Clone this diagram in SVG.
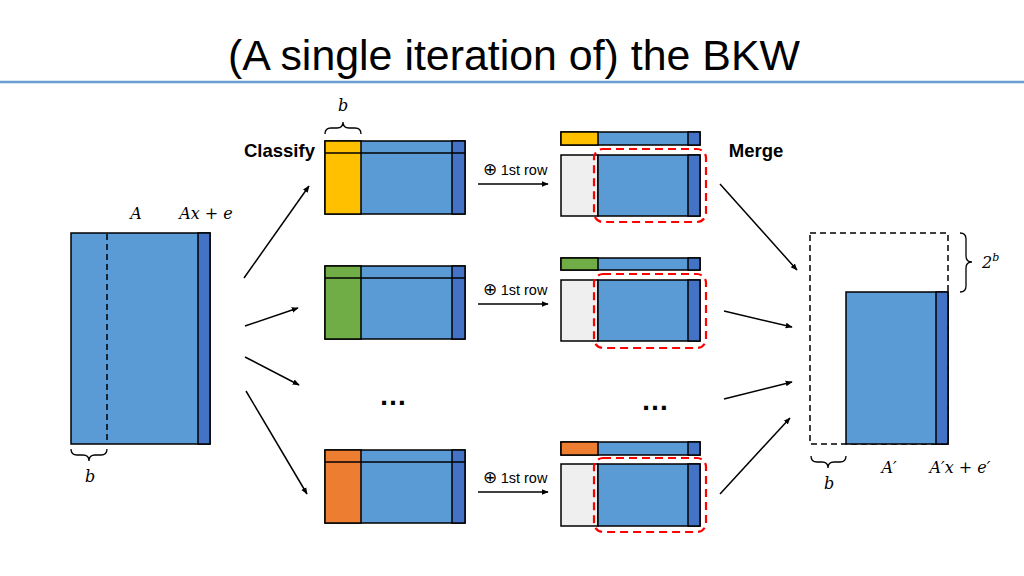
<svg xmlns="http://www.w3.org/2000/svg" width="1024" height="576" viewBox="0 0 1024 576">
<defs>
<marker id="ah" viewBox="0 0 10 10" refX="9" refY="5" markerWidth="7" markerHeight="7" orient="auto" markerUnits="userSpaceOnUse"><path d="M0,1 L10,5 L0,9 z" fill="#000"/></marker>
<style>
.lb{fill:#5B9BD5;stroke:#000;stroke-width:1.5}
.db{fill:#4472C4;stroke:#000;stroke-width:1.5}
.yl{fill:#FFC000;stroke:#000;stroke-width:1.5}
.gr{fill:#70AD47;stroke:#000;stroke-width:1.5}
.or{fill:#ED7D31;stroke:#000;stroke-width:1.5}
.gy{fill:#EFEFEF;stroke:#000;stroke-width:1.5}
.red{fill:none;stroke:#FF0000;stroke-width:2.2;stroke-dasharray:8,5}
.dash{fill:none;stroke:#000;stroke-width:1.5;stroke-dasharray:6,4}
.br{fill:none;stroke:#000;stroke-width:1.3}
.conn{stroke:#000;stroke-width:1.5;fill:none;marker-end:url(#ah)}
.math{font-family:"DejaVu Serif","Liberation Serif",serif;font-style:italic;font-size:16px;fill:#000}
.lab{font-family:"Liberation Sans",Arial,sans-serif;font-size:14.5px;fill:#000}
.op{font-size:17px}
.bold{font-family:"Liberation Sans",Arial,sans-serif;font-size:18.5px;font-weight:bold;fill:#000}
.dots{font-family:"Liberation Sans",Arial,sans-serif;font-size:28px;font-weight:bold;fill:#000}
</style>
</defs>
<rect width="1024" height="576" fill="#fff"/>
<g id="title">
<text x="514" y="70" text-anchor="middle" font-family="Liberation Sans, Arial, sans-serif" font-size="42" textLength="572" lengthAdjust="spacingAndGlyphs">(A single iteration of) the BKW</text>
<line x1="0" y1="82" x2="1024" y2="82" stroke="#6A9FD4" stroke-width="2.5"/>
</g>
<g id="matrixA">
<rect class="lb" x="71" y="233" width="139" height="211"/>
<rect class="db" x="198" y="233" width="12" height="211"/>
<line class="dash" x1="107" y1="234" x2="107" y2="443"/>
<text class="math" x="136" y="219" text-anchor="middle">A</text>
<text class="math" x="206" y="219" text-anchor="middle">Ax + e</text>
<path class="br" d="M71,449 Q71,455 77,455 L83,455 Q89,455 89,461 Q89,455 95,455 L101,455 Q107,455 107,449"/>
<text class="math" x="90" y="482" text-anchor="middle">b</text>
</g>
<g id="classify1">
<rect class="lb" x="325" y="141" width="140" height="73"/>
<rect class="yl" x="325" y="141" width="36" height="73"/>
<rect class="db" x="452" y="141" width="13" height="73"/>
<line x1="325" y1="153" x2="465" y2="153" stroke="#000" stroke-width="1.5"/>
<path class="br" d="M325,134 Q325,128 331,128 L337,128 Q343,128 343,122 Q343,128 349,128 L355,128 Q361,128 361,134"/>
<text class="math" x="343" y="111" text-anchor="middle">b</text>
<text class="bold" x="244" y="157">Classify</text>
</g>
<g id="classify2">
<rect class="lb" x="325" y="266" width="140" height="73"/>
<rect class="gr" x="325" y="266" width="36" height="73"/>
<rect class="db" x="452" y="266" width="13" height="73"/>
<line x1="325" y1="278" x2="465" y2="278" stroke="#000" stroke-width="1.5"/>
</g>
<g id="dots1"><text class="dots" x="393" y="405" text-anchor="middle">…</text></g>
<g id="classify3">
<rect class="lb" x="325" y="450" width="140" height="73"/>
<rect class="or" x="325" y="450" width="36" height="73"/>
<rect class="db" x="452" y="450" width="13" height="73"/>
<line x1="325" y1="462" x2="465" y2="462" stroke="#000" stroke-width="1.5"/>
</g>
<g id="reduced1">
<rect class="lb" x="561" y="132" width="139" height="13"/>
<rect class="yl" x="561" y="132" width="37" height="13"/>
<rect class="db" x="688" y="132" width="12" height="13"/>
<rect class="gy" x="561" y="155" width="37" height="61"/>
<rect class="lb" x="598" y="155" width="102" height="61"/>
<rect class="db" x="688" y="155" width="12" height="61"/>
<rect class="red" x="594" y="149" width="112" height="73" rx="9"/>
<text class="lab" x="515" y="175" text-anchor="middle"><tspan class="op">⊕</tspan> 1st row</text>
<text class="bold" x="756" y="157" text-anchor="middle">Merge</text>
</g>
<g id="reduced2">
<rect class="lb" x="561" y="258" width="139" height="12"/>
<rect class="gr" x="561" y="258" width="37" height="12"/>
<rect class="db" x="688" y="258" width="12" height="12"/>
<rect class="gy" x="561" y="280" width="37" height="61"/>
<rect class="lb" x="598" y="280" width="102" height="61"/>
<rect class="db" x="688" y="280" width="12" height="61"/>
<rect class="red" x="594" y="274" width="112" height="74" rx="9"/>
<text class="lab" x="515" y="295" text-anchor="middle"><tspan class="op">⊕</tspan> 1st row</text>
</g>
<g id="dots2"><text class="dots" x="655" y="410" text-anchor="middle">…</text></g>
<g id="reduced3">
<rect class="lb" x="561" y="442" width="139" height="13"/>
<rect class="or" x="561" y="442" width="37" height="13"/>
<rect class="db" x="688" y="442" width="12" height="13"/>
<rect class="gy" x="561" y="464" width="37" height="62"/>
<rect class="lb" x="598" y="464" width="102" height="62"/>
<rect class="db" x="688" y="464" width="12" height="62"/>
<rect class="red" x="594" y="458" width="112" height="74" rx="9"/>
<text class="lab" x="515" y="483" text-anchor="middle"><tspan class="op">⊕</tspan> 1st row</text>
</g>
<g id="merged">
<rect class="dash" x="810" y="233" width="138" height="211"/>
<rect class="lb" x="846" y="292" width="102" height="152"/>
<rect class="db" x="936" y="292" width="12" height="152"/>
<path class="br" d="M960,233 Q966,233 966,239 L966,256 Q966,262 972,262 Q966,262 966,268 L966,286 Q966,292 960,292"/>
<text class="math" x="982" y="268">2<tspan dy="-7" font-size="11">b</tspan></text>
<path class="br" d="M811,456 Q811,462 817,462 L822,462 Q828,462 828,468 Q828,462 834,462 L840,462 Q846,462 846,456"/>
<text class="math" x="829" y="489" text-anchor="middle">b</text>
<text class="math" x="889" y="473" text-anchor="middle">A′</text>
<text class="math" x="960" y="473" text-anchor="middle">A′x + e′</text>
</g>
<g id="connectors">
<line class="conn" x1="244" y1="278" x2="309" y2="186"/>
<line class="conn" x1="245" y1="326" x2="298" y2="308"/>
<line class="conn" x1="245" y1="357" x2="299" y2="385"/>
<line class="conn" x1="246" y1="391" x2="307" y2="494"/>
<line class="conn" x1="478" y1="184" x2="548" y2="184"/>
<line class="conn" x1="478" y1="304" x2="548" y2="304"/>
<line class="conn" x1="478" y1="492" x2="548" y2="492"/>
<line class="conn" x1="720" y1="184" x2="797" y2="270"/>
<line class="conn" x1="724" y1="311" x2="792" y2="327"/>
<line class="conn" x1="724" y1="399" x2="792" y2="382"/>
<line class="conn" x1="720" y1="494" x2="790" y2="418"/>
</g>
</svg>
